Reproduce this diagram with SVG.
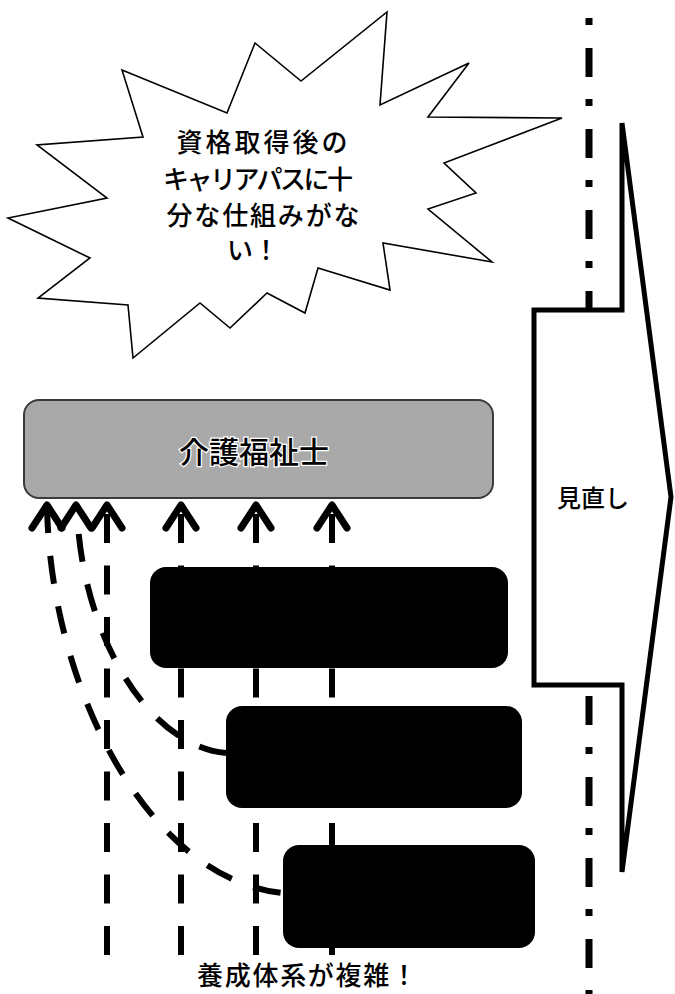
<svg xmlns="http://www.w3.org/2000/svg" xmlns:xlink="http://www.w3.org/1999/xlink" width="675" height="994" viewBox="0 0 675 994">
<style>
.jp{font-family:"Noto Sans CJK JP","Noto Sans CJK SC",sans-serif;fill:#000;font-weight:500}
.burst{fill:#fff;stroke:#000;stroke-width:1.6;stroke-linejoin:miter}
.vdash{fill:none;stroke:#000;stroke-width:6;stroke-dasharray:29 22.5}
.cdash{fill:none;stroke:#000;stroke-width:6;stroke-dasharray:28 23}
.head{fill:none;stroke:#000;stroke-width:7;stroke-linecap:round;stroke-linejoin:round}
.blk{fill:#000}
</style>
<defs>
<path id="ah" d="M-15,25 L0,2 L15,25" class="head"/>
</defs>
<rect width="675" height="994" fill="#fff"/>
<g id="burst">
<polygon class="burst" points="122,70 227,113 255,43 301,81 387,12 380,105 469,63 428,117 562,118 444,163 476,193 428,209 492,262 383,243 390,290 318,268 305,313 267,293 230,328 200,303 133,358 128,305 38,298 90,258 8,218 107,198 37,145 143,137"/>
<text class="jp" font-size="26" text-anchor="middle" x="262" y="152" textLength="171" lengthAdjust="spacing">資格取得後の</text>
<text class="jp" font-size="26" text-anchor="middle" x="258" y="189" textLength="190" lengthAdjust="spacing">キャリアパスに十</text>
<text class="jp" font-size="26" text-anchor="middle" x="263" y="225" textLength="193" lengthAdjust="spacing">分な仕組みがな</text>
<text class="jp" font-size="26" text-anchor="middle" x="253" y="260">い！</text>
</g>
<g id="divider">
<line x1="589" y1="18" x2="589" y2="994" stroke="#000" stroke-width="7" stroke-dasharray="7 23 29 22"/>
</g>
<g id="review">
<polygon points="534,310 622,310 622,123 671,497 622,872 622,685 534,685" fill="#fff" stroke="#000" stroke-width="5" stroke-linejoin="miter"/>
<text class="jp" font-size="24" text-anchor="middle" x="593" y="507">見直し</text>
</g>
<g id="connectors">
<path class="vdash" d="M107,955 V505" stroke="#222"/>
<path class="vdash" d="M181,955 V505"/>
<path class="vdash" d="M256,955 V505"/>
<path class="vdash" d="M332,955 V505"/>
<path class="cdash" d="M47,505 C50,690 150,880 283,893"/>
<path class="cdash" d="M77,505 C79,623 142,745 226,753" style="stroke-dashoffset:22"/>
<use xlink:href="#ah" x="47" y="503"/>
<use xlink:href="#ah" x="76" y="503"/>
<use xlink:href="#ah" x="107" y="503"/>
<use xlink:href="#ah" x="181" y="503"/>
<use xlink:href="#ah" x="256" y="503"/>
<use xlink:href="#ah" x="332" y="503"/>
</g>
<g id="care-worker">
<rect x="24" y="400" width="469" height="98" rx="15" fill="#a9a9a9" stroke="#3a3a3a" stroke-width="2"/>
<text class="jp" font-size="30" text-anchor="middle" x="254" y="463" stroke="#fff" stroke-width="2.5" paint-order="stroke">介護福祉士</text>
</g>
<g id="box1"><rect class="blk" x="150" y="567" width="358" height="101" rx="16"/></g>
<g id="box2"><rect class="blk" x="226" y="706" width="296" height="102" rx="16"/></g>
<g id="box3"><rect class="blk" x="283" y="845" width="252" height="103" rx="16"/></g>
<g id="caption">
<text class="jp" font-size="26" text-anchor="middle" x="307" y="985" textLength="220" lengthAdjust="spacing">養成体系が複雑！</text>
</g>
</svg>
